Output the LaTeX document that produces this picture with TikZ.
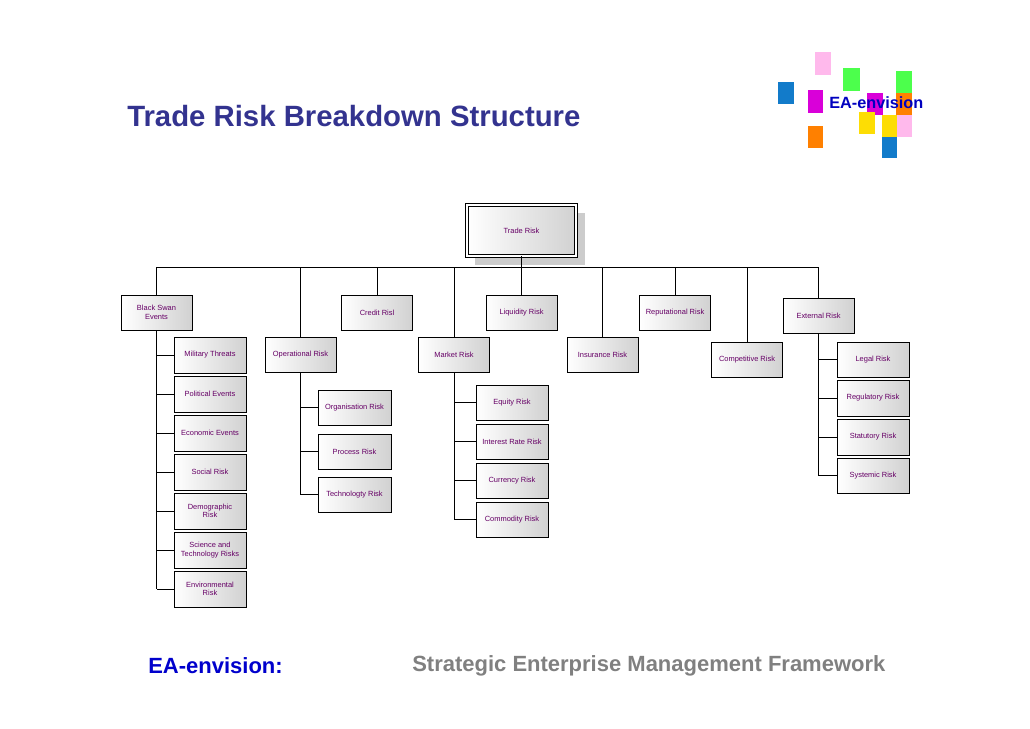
\documentclass[tikz,border=0pt]{standalone}
\usepackage{fontspec}
\setmainfont{Liberation Sans}
\begin{document}
\begin{tikzpicture}[x=0.75pt,y=-0.75pt,
  bx/.style={draw,line width=0.6pt,left color=white,right color=black!18,text=violet!80!black,font=\fontsize{5.6}{6.4}\selectfont,align=center,inner sep=0pt},
  ln/.style={line width=0.7pt}]
\useasboundingbox (0,0) rectangle (1030,728);
% logo
\fill[pink!60!magenta!50] (815,52) rectangle (831,75);
\fill[green!70!white] (843,68) rectangle (860,91);
\fill[green!70!white] (896,71) rectangle (912,93);
\fill[cyan!60!blue] (778,82) rectangle (794,104);
\fill[violet!30!magenta] (808,90) rectangle (823,113);
\fill[violet!30!magenta] (867,93) rectangle (883,115);
\fill[orange] (896,93) rectangle (912,116);
\fill[yellow!80!orange] (859,112) rectangle (875,134);
\fill[yellow!80!orange] (882,115) rectangle (897,137);
\fill[pink!60!magenta!50] (897,115) rectangle (912,137);
\fill[orange] (808,126) rectangle (823,148);
\fill[cyan!60!blue] (882,137) rectangle (897,158);
\node[anchor=west,text=blue!75!black,font=\bfseries\fontsize{12.2}{13}\selectfont,inner sep=0] (logo) at (829,103) {EA-envision};
% title
\node[anchor=west,text=blue!45!black!80!white,font=\bfseries\fontsize{22}{24}\selectfont,inner sep=0] (title) at (127,116) {Trade Risk Breakdown Structure};
% footer
\node[anchor=west,text=blue!80!black,font=\bfseries\fontsize{16.5}{18}\selectfont,inner sep=0] (f1) at (148,666) {EA-envision:};
\node[anchor=west,text=black!50,font=\bfseries\fontsize{16.5}{18}\selectfont,inner sep=0] (f2) at (412,666) {Strategic Enterprise Management Framework};
% root
\fill[black!20] (475,213) rectangle (585,265);
\node[bx,minimum width={109*0.75pt},minimum height={51*0.75pt},double,double distance=1.2pt] (root) at (521.5,230.5) {Trade Risk};
\newcommand\bb[5]{\node[bx,minimum width={#3*0.75pt},minimum height={#4*0.75pt}] (#1) at (#2) {#5};}
\def\w{71}\def\h{35}
\bb{bs}{156.5,312.5}{\w}{\h}{Black Swan\\Events}
\bb{cr}{377,312.5}{\w}{\h}{Credit Risl}
\bb{lq}{521.5,312.5}{\w}{\h}{Liquidity Risk}
\bb{rp}{675,312.5}{\w}{\h}{Reputational Risk}
\bb{ex}{818.5,316}{\w}{\h}{External Risk}
\bb{op}{300.5,355}{\w}{\h}{Operational Risk}
\bb{mk}{454,355}{\w}{\h}{Market Risk}
\bb{in}{602.5,355}{\w}{\h}{Insurance Risk}
\bb{cp}{747,360}{\w}{\h}{Competitive Risk}
\bb{b1}{210,355}{72}{36}{Military Threats}
\bb{b2}{210,394}{72}{36}{Political Events}
\bb{b3}{210,433}{72}{36}{Economic Events}
\bb{b4}{210,472}{72}{36}{Social Risk}
\bb{b5}{210,511}{72}{36}{Demographic\\Risk}
\bb{b6}{210,550}{72}{36}{Science and\\Technology Risks}
\bb{b7}{210,589}{72}{36}{Environmental\\Risk}
\bb{o1}{354.5,407.5}{73}{35}{Organisation Risk}
\bb{o2}{354.5,451.5}{73}{35}{Process Risk}
\bb{o3}{354.5,494.5}{73}{35}{Technologty Risk}
\bb{m1}{512,402.5}{72}{35}{Equity Risk}
\bb{m2}{512,441.5}{72}{35}{Interest Rate Risk}
\bb{m3}{512,480.5}{72}{35}{Currency Risk}
\bb{m4}{512,519.5}{72}{35}{Commodity Risk}
\bb{e1}{873,359.5}{72}{35}{Legal Risk}
\bb{e2}{873,398}{72}{36}{Regulatory Risk}
\bb{e3}{873,437}{72}{36}{Statutory Risk}
\bb{e4}{873,475.5}{72}{35}{Systemic Risk}
% connectors
\coordinate (busL) at (157,267);
\coordinate (busR) at (819,267);
\draw[ln] (busL) -- (busR);
\draw[ln] (root.south) -- (root.south |- busL);
\foreach \n in {bs,cr,lq,rp,ex,op,mk,in,cp}
  \draw[ln] (\n.north) -- (\n.north |- busL);
\draw[ln] (bs.south) -- (bs.south |- b7.west);
\foreach \n in {b1,b2,b3,b4,b5,b6,b7} \draw[ln] (\n.west) -- (\n.west -| bs.south);
\draw[ln] (op.south) -- (op.south |- o3.west);
\foreach \n in {o1,o2,o3} \draw[ln] (\n.west) -- (\n.west -| op.south);
\draw[ln] (mk.south) -- (mk.south |- m4.west);
\foreach \n in {m1,m2,m3,m4} \draw[ln] (\n.west) -- (\n.west -| mk.south);
\draw[ln] (ex.south) -- (ex.south |- e4.west);
\foreach \n in {e1,e2,e3,e4} \draw[ln] (\n.west) -- (\n.west -| ex.south);
\end{tikzpicture}
\end{document}
